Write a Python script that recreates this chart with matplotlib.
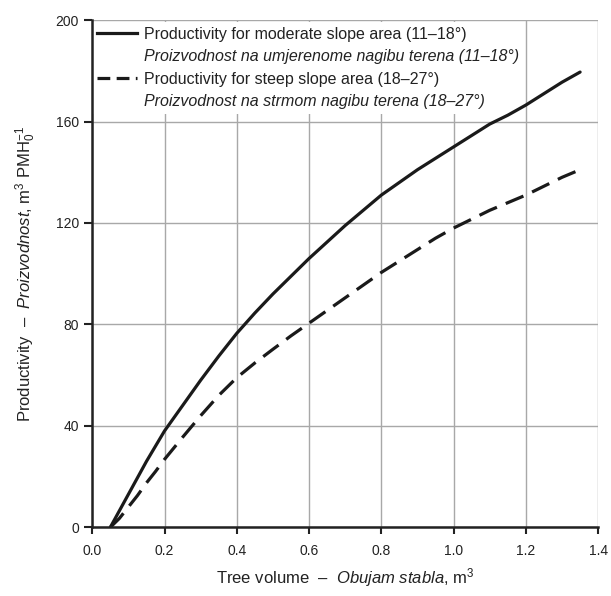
import matplotlib
matplotlib.use("Agg")
import matplotlib.pyplot as plt
from matplotlib.lines import Line2D

plt.rcParams['font.family'] = ['Liberation Sans', 'DejaVu Sans']
plt.rcParams['mathtext.fontset'] = 'custom'
plt.rcParams['mathtext.rm'] = 'Liberation Sans'
plt.rcParams['mathtext.it'] = 'Liberation Sans:italic'

# tree volume, m3
volume = [0.05, 0.075, 0.1, 0.125, 0.15, 0.175, 0.2, 0.25, 0.3, 0.35, 0.4, 0.45, 0.5,
          0.55, 0.6, 0.65, 0.7, 0.75, 0.8, 0.85, 0.9, 0.95, 1.0, 1.05, 1.1, 1.15,
          1.2, 1.25, 1.3, 1.35]
# productivity, m3 PMH0^-1
moderate = [0, 6.5, 13, 19.5, 26, 32, 38, 48, 58, 67.5, 76.5, 84.5, 92,
            99, 106, 112.5, 119, 125, 131, 136, 141, 145.5, 150, 154.5, 159, 162.5,
            166.5, 171, 175.5, 179.5]
steep = [0, 3.5, 8, 12.5, 17.5, 22, 26.8, 35.5, 44, 52, 59, 64.8, 70.2,
         75.5, 80.5, 85.5, 90.5, 95.5, 100.5, 105, 109.5, 114, 118, 121.5, 125, 128,
         131, 134.5, 138, 141]

labels = ["Productivity for moderate slope area (11\u201318\u00b0)",
          "Proizvodnost na umjerenome nagibu terena (11\u201318\u00b0)",
          "Productivity for steep slope area (18\u201327\u00b0)",
          "Proizvodnost na strmom nagibu terena (18\u201327\u00b0)"]
xticks = [0.0, 0.2, 0.4, 0.6, 0.8, 1.0, 1.2, 1.4]
yticks = [0, 40, 80, 120, 160, 200]

fig = plt.figure(figsize=(6.11, 5.96), dpi=100)
ax = fig.add_axes([0.151, 0.1153, 0.828, 0.851])

ax.plot(volume, moderate, color='#1a1a1a', lw=2.3, solid_capstyle='round', zorder=6)
ax.plot(volume, steep, color='#1a1a1a', lw=2.3, dashes=(6, 3), dash_capstyle='butt', zorder=6)

ax.set_xlim(0, 1.4)
ax.set_ylim(0, 200)
ax.set_xticks(xticks)
ax.set_xticklabels(["%.1f" % v for v in xticks])
ax.set_yticks(yticks)
ax.grid(True, color='#a8a8a8', lw=1)
ax.set_axisbelow(True)
for s in ['top', 'right']:
    ax.spines[s].set_visible(False)
for s in ['left', 'bottom']:
    ax.spines[s].set_linewidth(1.8)
    ax.spines[s].set_color('#222222')
    ax.spines[s].set_zorder(7)
ax.tick_params(direction='out', width=1.5, labelsize=10, color='#222222', labelcolor='#222222')
ax.tick_params(axis='x', length=5, pad=7)
ax.tick_params(axis='y', length=6, pad=3.5)

ax.set_xlabel(r"Tree volume  –  $\it{Obujam\ stabla}$, m$^3$", fontsize=12, labelpad=6, color='#222222')
ax.set_ylabel(r"Productivity  –  $\it{Proizvodnost}$, m$^3$ PMH$_0^{-1}$", fontsize=12, labelpad=13, color='#222222')

handles = [Line2D([], [], color='#1a1a1a', lw=2.3),
           Line2D([], [], color='none'),
           Line2D([], [], color='#1a1a1a', lw=2.3, dashes=(4, 2)),
           Line2D([], [], color='none')]
leg = ax.legend(handles, labels, loc='upper left', bbox_to_anchor=(0, 0.996), fontsize=11.5,
                frameon=True, fancybox=False, edgecolor='none', facecolor='white', framealpha=1,
                handlelength=2.5, handletextpad=0.45, labelspacing=0.47,
                borderaxespad=0, borderpad=0.3)
for i, t in enumerate(leg.get_texts()):
    t.set_color('#222222')
    if i % 2 == 1:
        t.set_fontstyle('italic')

fig.savefig("out.png", dpi=100)
